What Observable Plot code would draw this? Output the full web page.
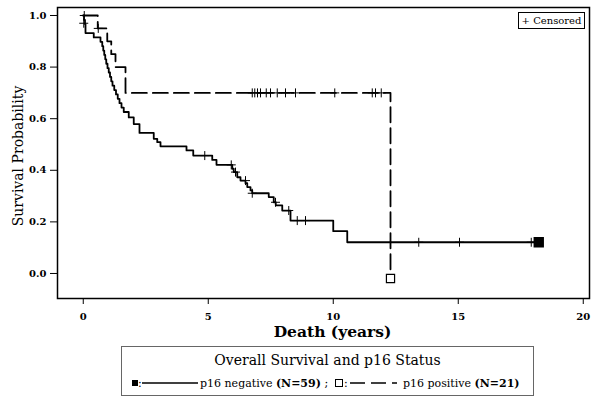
<!DOCTYPE html>
<html><head><meta charset="utf-8">
<script src="https://cdn.jsdelivr.net/npm/d3@7"></script>
<script src="https://cdn.jsdelivr.net/npm/@observablehq/plot@0.6"></script>
<style>
body{margin:0;background:#fff;}
#wrap{position:relative;width:601px;height:402px;overflow:hidden;font-family:"DejaVu Serif",serif;color:#000;}
#chart{position:absolute;left:0;top:0;}
.abs{position:absolute;white-space:nowrap;}
#censor{left:518px;top:12px;width:65px;height:15px;border:1px solid #000;font-size:10px;line-height:15px;text-align:center;background:#fff;}
#legend{left:121px;top:346px;width:411px;height:48px;border:1px solid #666;}
.ltitle{left:121px;top:352px;width:413px;text-align:center;font-size:14px;line-height:16px;}
.lt{font-size:11px;line-height:13px;top:377px;}
</style>
</head><body>
<div id="wrap">
  <div id="chart"></div>
  <div id="censor" class="abs">+ Censored</div>
  <div id="legend" class="abs"></div>
  <div class="abs ltitle">Overall Survival and p16 Status</div>
  <div class="abs" style="left:132px;top:380px;width:6px;height:6px;background:#000;"></div>
  <div class="abs lt" style="left:138px;">:</div>
  <svg class="abs" style="left:142px;top:378px;" width="56" height="10"><line x1="0" x2="56" y1="5" y2="5" stroke="#000" stroke-width="1.3"/></svg>
  <div class="abs lt" style="left:200px;">p16 negative <b>(N=59)</b> ;</div>
  <div class="abs" style="left:335px;top:379px;width:6px;height:6px;border:1px solid #000;background:#fff;"></div>
  <div class="abs lt" style="left:344px;">:</div>
  <svg class="abs" style="left:350px;top:378px;" width="47" height="10"><line x1="0" x2="47" y1="5" y2="5" stroke="#000" stroke-width="1.3" stroke-dasharray="15,6"/></svg>
  <div class="abs lt" style="left:403px;">p16 positive <b>(N=21)</b></div>
</div>
<script>
// p16 negative (N=59): step times and survival after each step
const negTime = [0, 0.03, 0.07, 0.09, 0.42, 0.69, 0.76, 0.80, 0.84, 0.88, 0.92, 0.97, 1.02, 1.07, 1.12, 1.17, 1.24, 1.31, 1.38, 1.45, 1.53, 1.62, 1.82, 2.02, 2.25, 2.82, 2.96, 3.09, 4.13, 4.40, 5.16, 5.33, 5.96, 6.02, 6.16, 6.29, 6.49, 6.56, 6.69, 6.76, 7.42, 7.62, 7.70, 7.96, 8.29, 10.00, 10.56, 18.22];
const negSurv = [1.0, 0.983, 0.966, 0.932, 0.915, 0.898, 0.881, 0.864, 0.847, 0.830, 0.813, 0.796, 0.779, 0.762, 0.745, 0.728, 0.711, 0.694, 0.677, 0.660, 0.643, 0.626, 0.605, 0.579, 0.545, 0.522, 0.509, 0.493, 0.477, 0.457, 0.440, 0.421, 0.406, 0.393, 0.373, 0.360, 0.350, 0.335, 0.322, 0.311, 0.296, 0.276, 0.264, 0.244, 0.205, 0.164, 0.121, 0.121];
const negCensTime = [0.02, 4.86, 5.92, 6.09, 6.49, 6.76, 7.69, 8.22, 8.56, 8.89, 13.42, 15.05, 17.92];
const negCensSurv = [0.970, 0.457, 0.421, 0.393, 0.360, 0.311, 0.276, 0.244, 0.205, 0.205, 0.121, 0.121, 0.121];
// p16 positive (N=21)
const posTime = [0, 0.58, 0.96, 1.12, 1.29, 1.69, 12.29];
const posSurv = [1.0, 0.95, 0.90, 0.85, 0.80, 0.70, 0.0];
const posCensTime = [0.04, 0.60, 6.76, 6.86, 6.97, 7.09, 7.32, 7.49, 7.76, 8.09, 8.49, 10.06, 11.56, 11.69, 11.92];
const posCensSurv = [1.0, 0.95, 0.70, 0.70, 0.70, 0.70, 0.70, 0.70, 0.70, 0.70, 0.70, 0.70, 0.70, 0.70, 0.70];
// end-of-curve symbols
const negEnd = {t: 18.22, s: 0.121};
const posEnd = {t: 12.29, s: 0.0};
// axes
const xTicks = [0, 5, 10, 15, 20];
const yTicks = [0, 0.2, 0.4, 0.6, 0.8, 1.0];
const xTitle = "Death (years)";
const yTitle = "Survival Probability";

const neg = negTime.map((t, i) => ({t, s: negSurv[i]}));
const pos = posTime.map((t, i) => ({t, s: posSurv[i]}));
const negC = negCensTime.map((t, i) => ({t, s: negCensSurv[i]}));
const posC = posCensTime.map((t, i) => ({t, s: posCensSurv[i]}));

const chart = Plot.plot({
  width: 601, height: 340,
  marginLeft: 57, marginRight: 12, marginTop: 7, marginBottom: 42,
  x: {domain: [-1.03, 20.25]},
  y: {domain: [-0.097, 1.031]},
  style: {fontFamily: "DejaVu Serif", background: "white", color: "black"},
  marks: [
    Plot.axisX({ticks: xTicks, tickSize: 6, tickPadding: 8, fontWeight: "bold", fontSize: 10, label: null}),
    Plot.axisY({ticks: yTicks, tickSize: 7, tickPadding: 4, tickFormat: d3.format(".1f"), fontWeight: "bold", fontSize: 10, label: null}),
    Plot.line(neg, {x: "t", y: "s", curve: "step-after", stroke: "black", strokeWidth: 1.8}),
    Plot.line(pos, {x: "t", y: "s", curve: "step-after", stroke: "black", strokeWidth: 1.8, strokeDasharray: "15,6"}),
    Plot.dot(negC, {x: "t", y: "s", symbol: "plus", r: 3, stroke: "black", strokeWidth: 1}),
    Plot.dot(posC, {x: "t", y: "s", symbol: "plus", r: 3, stroke: "black", strokeWidth: 1}),
    Plot.dot([negEnd], {x: "t", y: "s", symbol: "square", r: 5, fill: "black", stroke: "black"}),
    Plot.dot([posEnd], {x: "t", y: "s", symbol: "square", r: 4.6, fill: "white", stroke: "black", strokeWidth: 1.2, dy: 5}),
    Plot.frame({stroke: "black", strokeWidth: 1.5}),
    Plot.text([yTitle], {text: d => d, frameAnchor: "left", textAnchor: "middle", lineAnchor: "middle", dx: -39, dy: 3, rotate: -90, fontSize: 14}),
    Plot.text([xTitle], {text: d => d, frameAnchor: "bottom", textAnchor: "middle", lineAnchor: "middle", dx: 9, dy: 34, fontSize: 15.5, fontWeight: "bold"})
  ]
});
document.getElementById("chart").appendChild(chart);
</script>
</body></html>
